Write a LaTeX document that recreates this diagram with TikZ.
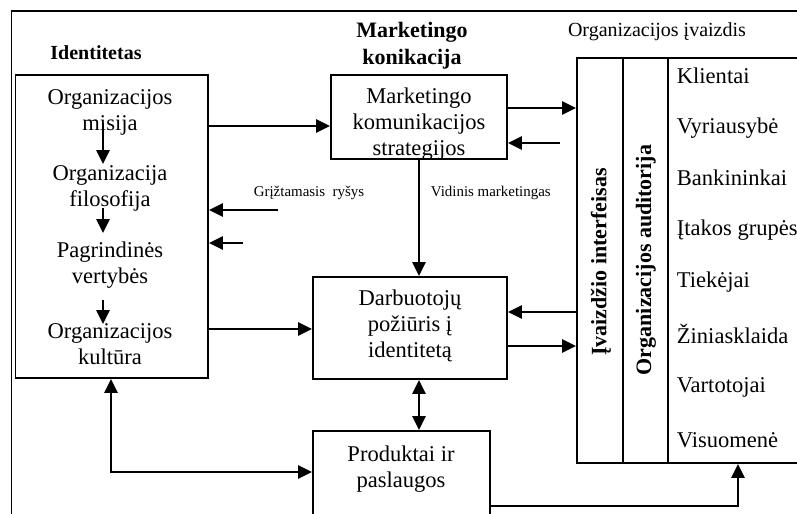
\documentclass[tikz,border=0pt]{standalone}
\usepackage{fontspec}
\setmainfont{Liberation Serif}
\usetikzlibrary{arrows.meta,fit}

\begin{document}
\begin{tikzpicture}[x=0.75pt,y=-0.75pt,
  line width=1.4pt,
  tip/.tip={Triangle[length=10.5pt,width=10pt]},
  arr/.style={-tip},
  darr/.style={tip-tip},
  box/.style={draw, rectangle, inner sep=0pt},
  body/.style={font=\fontsize{16.9}{19.5}\selectfont, align=center, inner sep=0pt},
  bodyl/.style={font=\fontsize{16.9}{19.5}\selectfont, anchor=west, inner sep=0pt},
  head/.style={font=\fontsize{16.5}{20.5}\selectfont\bfseries, align=center, inner sep=0pt},
  small/.style={font=\fontsize{11.2}{13}\selectfont, inner sep=0pt},
]
\useasboundingbox (0,0) rectangle (797,514);
\clip (0,0) rectangle (797,514);

% outer frame
\draw (11.5,11) rectangle (900,700);

% level helpers
\coordinate (y108) at (0,108);
\coordinate (y126) at (0,126);
\coordinate (y143) at (0,143);
\coordinate (y210) at (0,210);
\coordinate (y243) at (0,243);
\coordinate (y312) at (0,312);
\coordinate (y329) at (0,329);
\coordinate (y346) at (0,346);
\coordinate (y472) at (0,472);
\coordinate (y506) at (0,506);
\coordinate (x111) at (111,0);
\coordinate (x738) at (738,0);

% boxes
\node[box, fit={(15.5,75) (208,378)}] (ident) {};
\node[box, fit={(331,75) (507,159)}] (mks) {};
\node[box, fit={(313,277) (507,379)}] (darb) {};
\node[box, fit={(313,431) (490,600)}] (prod) {};
\node[box, fit={(577,58) (900,463)}] (right) {};
\draw (623,58) -- (623,463);
\draw (668,58) -- (668,463);

% headings
\node[head, font=\fontsize{15}{18}\selectfont\bfseries] (hid) at (96,53) {Identitetas};
\node[head] (hmk) at (412,46) {Marketingo\\konikacija};
\node[small, font=\fontsize{15}{18}\selectfont] (hiv) at (657,32) {Organizacijos įvaizdis};

% identity items
\node[body] (i1) at (110,112) {Organizacijos\\misija};
\node[body] (i2) at (110,188) {Organizacija\\filosofija};
\node[body] (i3) at (110,265) {Pagrindinės\\vertybės};
\node[body] (i4) at (110,344) {Organizacijos\\kultūra};
\coordinate (a1) at (103,123);
\coordinate (b1) at (103,164);
\coordinate (a2) at (103,208);
\coordinate (b2) at (103,233);
\coordinate (a3) at (103,300);
\coordinate (b3) at (103,324);
\draw[arr] (a1) -- (b1);
\draw[arr] (a2) -- (b2);
\draw[arr] (a3) -- (b3);

% box texts
\node[body] (tmk) at (419,124) {Marketingo\\komunikacijos\\strategijos};
\node[body] (tdb) at (410,326) {Darbuotojų\\požiūris į\\identitetą};
\node[body] (tpr) at (401,469) {Produktai ir\\paslaugos};

% audience column
\node[head, rotate=90, font=\fontsize{16.5}{20}\selectfont\bfseries] (vint) at (601,262) {Įvaizdžio interfeisas};
\node[head, rotate=90, font=\fontsize{16.5}{20}\selectfont\bfseries] (vaud) at (646,260) {Organizacijos auditorija};
\node[bodyl] (r1) at (676,76) {Klientai};
\node[bodyl] (r2) at (676,128) {Vyriausybė};
\node[bodyl] (r3) at (676,178) {Bankininkai};
\node[bodyl] (r4) at (676,230) {Įtakos grupės};
\node[bodyl] (r5) at (676,282) {Tiekėjai};
\node[bodyl] (r6) at (676,334) {Žiniasklaida};
\node[bodyl] (r7) at (676,387) {Vartotojai};
\node[bodyl] (r8) at (676,440) {Visuomenė};

% labels on flows
\node[small] (lgr) at (309,193) {Grįžtamasis\ \ ryšys};
\node[small, anchor=west] (lvm) at (430,193) {Vidinis marketingas};

% flows
\draw[arr] (ident.east |- y126) -- (mks.west |- y126);
\draw[arr] (mks.east |- y108) -- (right.west |- y108);
\coordinate (f1) at (560,143);
\draw[arr] (f1) -- (mks.east |- y143);
\coordinate (f2) at (278,210);
\coordinate (f3) at (243,243);
\draw[arr] (f2) -- (ident.east |- y210);
\draw[arr] (f3) -- (ident.east |- y243);
\draw[arr] (mks.south) -- (darb.north -| mks.south);
\draw[arr] (ident.east |- y329) -- (darb.west |- y329);
\draw[arr] (right.west |- y312) -- (darb.east |- y312);
\draw[arr] (darb.east |- y346) -- (right.west |- y346);
\draw[darr] (darb.south -| mks.south) -- (prod.north -| mks.south);
\draw[darr] (ident.south -| x111) |- (prod.west |- y472);
\draw[arr] (prod.east |- y506) -| (right.south -| x738);
\end{tikzpicture}
\end{document}
